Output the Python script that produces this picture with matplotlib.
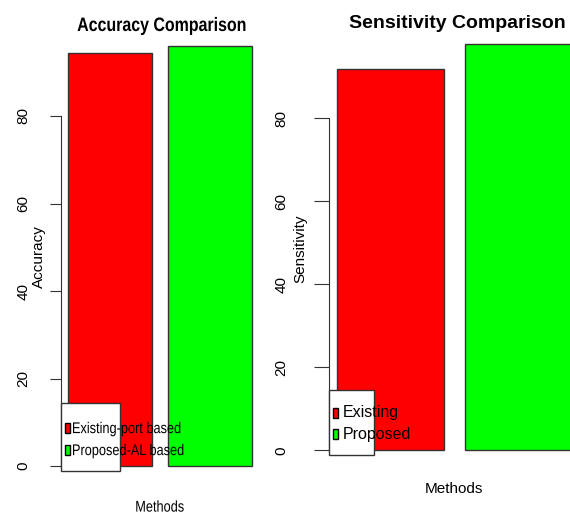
import matplotlib
matplotlib.use("Agg")
import matplotlib.pyplot as plt
from matplotlib.patches import Rectangle, PathPatch
from matplotlib.textpath import TextPath
from matplotlib.font_manager import FontProperties
from matplotlib.transforms import Affine2D, IdentityTransform

# data
methods_acc = ["Existing-port based", "Proposed-AL based"]
accuracy = [94.4, 96.1]
methods_sens = ["Existing", "Proposed"]
sensitivity = [92.0, 98.0]
bar_colors = ["#ff0000", "#00ff00"]
yticks = [0, 20, 40, 60, 80]

W, H = 570.0, 516.0
plt.rcParams['font.family'] = ['Liberation Sans', 'DejaVu Sans']

fig = plt.figure(figsize=(W / 100, H / 100), dpi=100)


def px_axes(x0, x1, y_top, y_bot):
    # axes from pixel box (y measured from top)
    return fig.add_axes([x0 / W, 1 - y_bot / H, (x1 - x0) / W, (y_bot - y_top) / H])


def bar_panel(ax, vals, xlim, tick_len, pad):
    xpos = [0.7, 1.9]
    ax.bar(xpos, vals, width=1.0, color=bar_colors, edgecolor="#333333", linewidth=1.0)
    ax.set_xlim(*xlim)
    ax.set_ylim(-2, 100)
    for s in ["top", "right", "bottom"]:
        ax.spines[s].set_visible(False)
    ax.spines["left"].set_bounds(0, 80)
    ax.spines["left"].set_color("#333333")
    ax.set_xticks([])
    ax.set_yticks(yticks)
    ax.set_yticklabels([str(t) for t in yticks], rotation=90, va="center", fontsize=11)
    ax.tick_params(axis="y", length=tick_len, pad=pad, color="#333333")
    ax.patch.set_alpha(0)


def fig_text(x, y, s, **kw):
    fig.text(x / W, 1 - y / H, s, ha="center", va="center", **kw)


def narrow_text(ax, x, y, s, size, weight="normal", sx=0.82, ha="center"):
    # no narrow font installed: squeeze the glyph outlines horizontally
    tp = TextPath((0, 0), s, size=size, prop=FontProperties(family="Liberation Sans", weight=weight))
    ext = tp.get_extents()
    k = 100 / 72.0
    x_off = -(ext.x0 + ext.x1) / 2 if ha == "center" else -ext.x0
    tr = Affine2D().translate(x_off, -(size * 0.36)).scale(sx * k, k).translate(x, H - y)
    ax.add_patch(PathPatch(tp, transform=tr + IdentityTransform(), facecolor="black",
                           edgecolor="none", clip_on=False, zorder=5))


def legend_frame(ax, x0, x1, y0, y1):
    ax.add_patch(Rectangle((x0 / W, 1 - y1 / H), (x1 - x0) / W, (y1 - y0) / H,
                           transform=fig.transFigure, facecolor="white",
                           edgecolor="#333333", linewidth=1.0, zorder=3, clip_on=False))


def legend_keys(ax, x, ys, w, h):
    for c, y in zip(bar_colors, ys):
        ax.add_patch(Rectangle((x / W, 1 - (y + h / 2) / H), w / W, h / H,
                               transform=fig.transFigure, facecolor=c,
                               edgecolor="black", linewidth=1.0, zorder=4, clip_on=False))


# left panel: accuracy
ax1 = px_axes(61, 268.7, 28.5, 474.75)
bar_panel(ax1, accuracy, (0.116, 2.6), 8, 14)
narrow_text(ax1, 161.5, 24, "Accuracy Comparison", 14, weight="bold")
narrow_text(ax1, 160, 506, "Methods", 11.2)
fig_text(39, 257, "Accuracy", fontsize=11, rotation=90)
legend_frame(ax1, 61, 120, 403, 471)
legend_keys(ax1, 65, [427.5, 449.5], 4.5, 10)
for lab, y in zip(methods_acc, [427.5, 449.5]):
    narrow_text(ax1, 73, y, lab, 11.2, ha="left")

# right panel: sensitivity
ax2 = px_axes(329, 570, 35.3, 458.6)
bar_panel(ax2, sensitivity, (0.122, 2.387), 11, 18)
fig_text(457, 24, "Sensitivity Comparison", fontsize=14, fontweight="bold")
fig_text(454, 489, "Methods", fontsize=11)
fig_text(300, 249, "Sensitivity", fontsize=11, rotation=90)
legend_frame(ax2, 329, 374, 390, 455)
legend_keys(ax2, 333, [413, 434], 5, 10)
for lab, y in zip(methods_sens, [413, 434]):
    fig.text(343 / W, 1 - y / H, lab, ha="left", va="center", fontsize=11.5, zorder=5)

fig.savefig("out.png", dpi=100)
